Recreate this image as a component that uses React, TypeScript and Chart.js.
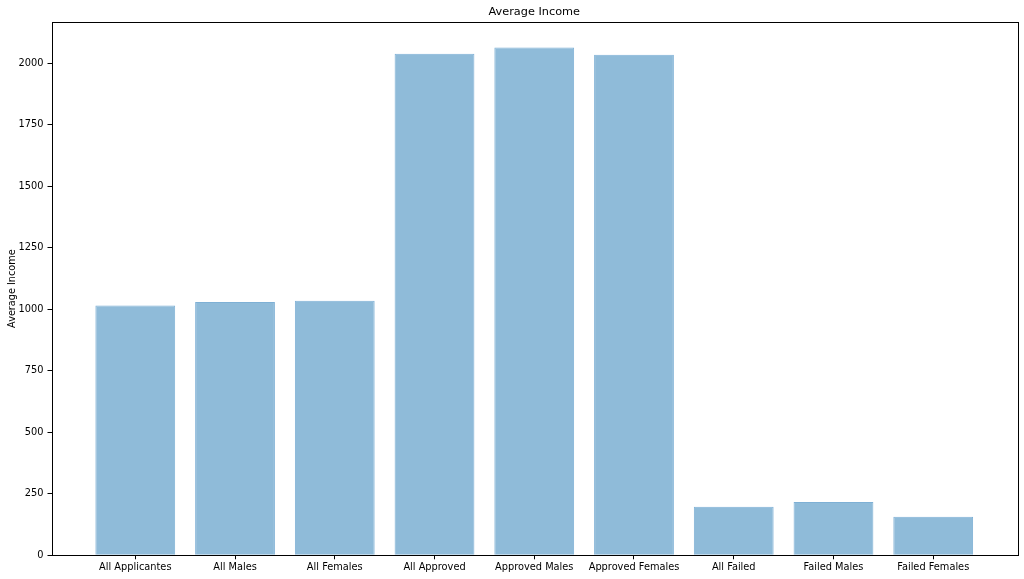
import React, { useEffect, useRef } from "react";
import { Chart, registerables } from "chart.js";

Chart.register(...registerables);

const categories = [
  "All Applicantes",
  "All Males",
  "All Females",
  "All Approved",
  "Approved Males",
  "Approved Females",
  "All Failed",
  "Failed Males",
  "Failed Females",
];
const incomeValues = [1015, 1030, 1035, 2039, 2064, 2035, 197, 217, 157];
const yTickValues = [0, 250, 500, 750, 1000, 1250, 1500, 1750, 2000];
const chartTitle = "Average Income";
const yAxisTitle = "Average Income";

const FONT = "'DejaVu Sans', sans-serif";

export default function App() {
  const ref = useRef<HTMLCanvasElement | null>(null);

  useEffect(() => {
    document.body.style.margin = "0";
    const canvas = ref.current;
    if (!canvas) return;

    const framePlugin = {
      id: "frame",
      afterDraw(chart: any) {
        const { ctx, chartArea } = chart;
        ctx.save();
        ctx.strokeStyle = "#000";
        ctx.lineWidth = 1;
        ctx.strokeRect(
          Math.round(chartArea.left) + 0.5,
          Math.round(chartArea.top) + 0.5,
          Math.round(chartArea.right - chartArea.left),
          Math.round(chartArea.bottom - chartArea.top)
        );
        ctx.fillStyle = "#000";
        ctx.font = `11.3px ${FONT}`;
        ctx.textAlign = "center";
        ctx.textBaseline = "middle";
        ctx.fillText(chartTitle, (chartArea.left + chartArea.right) / 2, 12.5);
        ctx.translate(12, (chartArea.top + chartArea.bottom) / 2);
        ctx.rotate(-Math.PI / 2);
        ctx.font = `9.7px ${FONT}`;
        ctx.fillText(yAxisTitle, 0, 0);
        ctx.restore();
      },
    };

    const chart = new Chart(canvas, {
      type: "bar",
      data: {
        datasets: [
          {
            data: incomeValues.map((v, i) => ({ x: i, y: v })),
            backgroundColor: "#8fbbd9",
            borderColor: "#7eb0d5",
            borderWidth: 1,
            barPercentage: 0.8,
            categoryPercentage: 1.0,
          },
        ],
      },
      options: {
        animation: false,
        responsive: false,
        layout: { padding: { left: 0, top: 22, right: 7, bottom: 0 } },
        plugins: {
          legend: { display: false },
          title: { display: false },
          tooltip: { enabled: false },
        },
        scales: {
          x: {
            type: "linear",
            min: -0.84,
            max: 8.84,
            offset: false,
            afterBuildTicks(scale: any) {
              scale.ticks = categories.map((_, i) => ({ value: i }));
            },
            afterFit(scale: any) {
              scale.height = 23.7;
            },
            ticks: {
              autoSkip: false,
              maxRotation: 0,
              color: "#000",
              font: { family: FONT, size: 9.8 },
              padding: 2,
              callback: (v: any) => categories[Number(v)] ?? "",
            },
            grid: {
              display: true,
              offset: false,
              drawOnChartArea: false,
              drawTicks: true,
              tickLength: 4,
              color: "#000",
            },
            border: { display: false },
          },
          y: {
            min: 0,
            max: 2168,
            afterBuildTicks(scale: any) {
              scale.ticks = yTickValues.map((v) => ({ value: v }));
            },
            afterFit(scale: any) {
              scale.width = 51.5;
            },
            ticks: {
              color: "#000",
              font: { family: FONT, size: 9.8 },
              padding: 4,
              callback: (v: any) => String(v),
            },
            grid: {
              display: true,
              offset: false,
              drawOnChartArea: false,
              drawTicks: true,
              tickLength: 4,
              color: "#000",
            },
            border: { display: false },
          },
        },
      } as any,
      plugins: [framePlugin],
    });

    return () => chart.destroy();
  }, []);

  return (
    <div style={{ position: "fixed", left: 0, top: 0, width: 1024, height: 579, background: "#fff" }}>
      <canvas ref={ref} width={1024} height={579} style={{ width: 1024, height: 579 }} />
    </div>
  );
}
